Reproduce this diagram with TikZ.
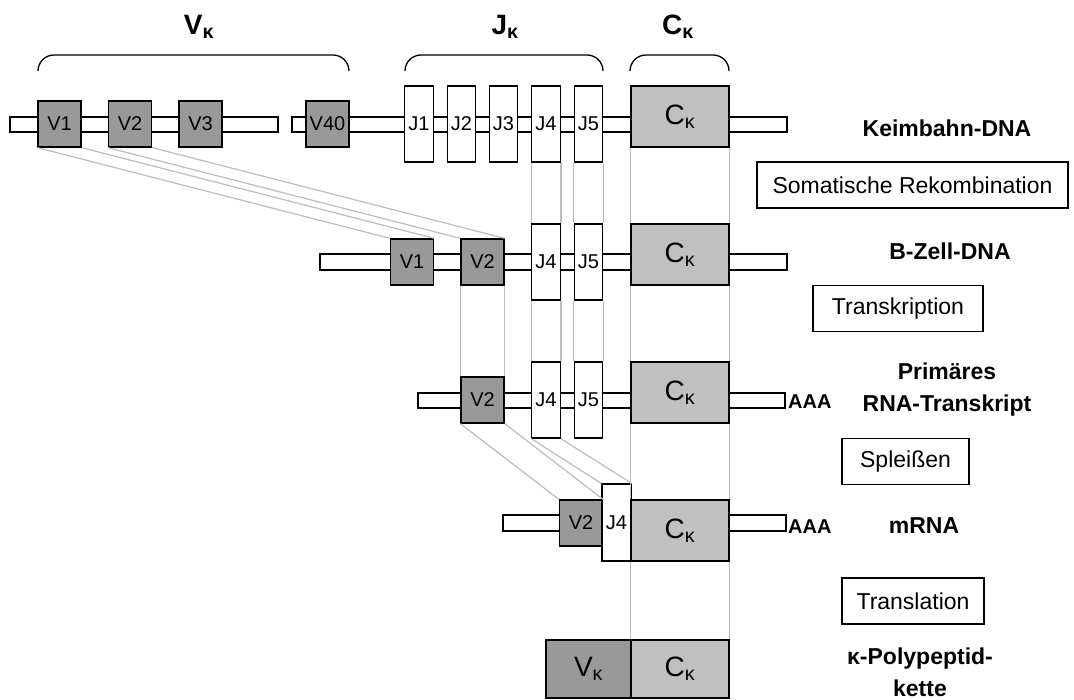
\documentclass[tikz,border=0pt]{standalone}
\usepackage{fontspec}
\setmainfont{Liberation Sans}
\usetikzlibrary{positioning}
\definecolor{VGray}{RGB}{153,153,153}
\definecolor{CGray}{RGB}{192,192,192}
\definecolor{GuideGray}{RGB}{188,188,188}
\newcommand{\ksub}{\textsubscript{κ}}
\tikzset{
  seg/.style={draw=black,line width=1.3pt,inner sep=0pt,font=\fontsize{20}{24}\selectfont},
  vseg/.style={seg,fill=VGray,minimum width=43pt,minimum height=46pt},
  jseg/.style={seg,fill=white,minimum width=28.5pt,minimum height=76pt},
  cseg/.style={seg,fill=CGray,minimum width=98pt,minimum height=61pt,font=\fontsize{28}{32}\selectfont},
  strand/.style={draw=black,fill=white,line width=1.3pt},
  guide/.style={draw=GuideGray,line width=1.2pt},
  bracket/.style={draw=black,line width=1.3pt,rounded corners=16pt},
  head/.style={font=\bfseries\fontsize{28}{32}\selectfont,anchor=base},
  rowname/.style={font=\bfseries\fontsize{23}{32}\selectfont,align=center},
  procbox/.style={draw=black,line width=1.3pt,font=\fontsize{23}{27}\selectfont,inner sep=0pt,minimum height=46pt},
  tail/.style={font=\bfseries\fontsize{20}{24}\selectfont,anchor=base west,inner sep=0pt},
}

\begin{document}
\begin{tikzpicture}[x=1pt,y=-1pt]
\path[use as bounding box,fill=white] (0,0) rectangle (1074,700);

% headers and brackets
\node[head] (hv) at (199,35) {V\ksub};
\node[head] (hj) at (505,35) {J\ksub};
\node[head] (hc) at (678,35) {C\ksub};
\draw[bracket] (38,71) -- (38,55) -- (349,55) -- (349,71);
\draw[bracket] (405,71) -- (405,55) -- (603,55) -- (603,71);
\draw[bracket] (630,71) -- (630,55) -- (729,55) -- (729,71);

% Keimbahn-DNA
\draw[strand] (10,117) rectangle (278,132);
\draw[strand] (292,117) rectangle (787,132);
\node[vseg] (va1) at (59.5,124) {V1};
\node[vseg] (va2) at (130,124) {V2};
\node[vseg] (va3) at (200.5,124) {V3};
\node[vseg] (va40) at (327.5,124) {V40};
\node[jseg] (ja1) at (419,124) {J1};
\node[jseg] (ja2) at (461.5,124) {J2};
\node[jseg] (ja3) at (503.5,124) {J3};
\node[jseg] (ja4) at (546,124) {J4};
\node[jseg] (ja5) at (588.5,124) {J5};
\node[cseg] (ca) at (680,116.5) {C\ksub};

% B-Zell-DNA
\draw[strand] (320,254) rectangle (787,270);
\node[vseg] (vb1) at (412,262) {V1};
\node[vseg] (vb2) at (482.5,262) {V2};
\node[jseg] (jb4) at (546,262) {J4};
\node[jseg] (jb5) at (588.5,262) {J5};
\node[cseg] (cb) at (680,254.5) {C\ksub};

% primary transcript
\draw[strand] (418,393) rectangle (785,408);
\node[vseg] (vc2) at (482.5,400) {V2};
\node[jseg] (jc4) at (546,400) {J4};
\node[jseg] (jc5) at (588.5,400) {J5};
\node[cseg] (cc) at (680,392.5) {C\ksub};
\node[tail] (aaac) at (788,409) {AAA};

% mRNA
\draw[strand] (503,515) rectangle (786,531);
\node[vseg] (vd2) at (581,523) {V2};
\node[jseg,minimum width=29pt,minimum height=77pt] (jd4) at (616.5,522.5) {J4};
\node[cseg] (cd) at (680,530.5) {C\ksub};
\node[tail] (aaad) at (788,533) {AAA};

% polypeptide
\node[seg,fill=VGray,minimum width=85pt,minimum height=58pt,font=\fontsize{28}{32}\selectfont] (ve) at (588.5,669) {V\ksub};
\node[cseg,minimum height=58pt] (ce) at (680,669) {C\ksub};

% guide lines
\draw[guide] (va1.south west) -- (vb1.north west);
\draw[guide] (va1.south east) -- (vb1.north east);
\draw[guide] (va2.south west) -- (vb2.north west);
\draw[guide] (va2.south east) -- (vb2.north east);
\draw[guide] (ja4.south west) -- (jb4.north west);
\draw[guide] (ja4.south east) -- (jb4.north east);
\draw[guide] (ja5.south west) -- (jb5.north west);
\draw[guide] (ja5.south east) -- (jb5.north east);
\draw[guide] (ca.south west) -- (cb.north west);
\draw[guide] (ca.south east) -- (cb.north east);

\draw[guide] (vb2.south west) -- (vc2.north west);
\draw[guide] (vb2.south east) -- (vc2.north east);
\draw[guide] (jb4.south west) -- (jc4.north west);
\draw[guide] (jb4.south east) -- (jc4.north east);
\draw[guide] (jb5.south west) -- (jc5.north west);
\draw[guide] (jb5.south east) -- (jc5.north east);
\draw[guide] (cb.south west) -- (cc.north west);
\draw[guide] (cb.south east) -- (cc.north east);

\draw[guide] (vc2.south west) -- (vd2.north west);
\draw[guide] (vc2.south east) -- (vd2.north east);
\draw[guide] (jc4.south west) -- (jd4.north west);
\draw[guide] (jc4.south east) -- (jd4.north east);
\draw[guide] (cc.south west) -- (cd.north west);
\draw[guide] (cc.south east) -- (cd.north east);

\draw[guide] (cd.south west) -- (ce.north west);
\draw[guide] (cd.south east) -- (ce.north east);

% labels and steps
\node[rowname,anchor=base] (keim) at (947,137) {Keimbahn-DNA};
\node[procbox,minimum width=311pt] (rekomb) at (912.5,185) {Somatische Rekombination};
\node[rowname,anchor=base] (bzell) at (950,260) {B-Zell-DNA};
\node[procbox,minimum width=170pt] (transk) at (898,308.5) {Transkription};
\node[rowname] (prim) at (947,390) {Primäres\\RNA-Transkript};
\node[procbox,minimum width=127pt] (spleiss) at (905.5,461.5) {Spleißen};
\node[rowname,anchor=base] (mrna) at (924,533) {mRNA};
\node[procbox,minimum width=142pt] (transl) at (913,601) {Translation};
\node[rowname] (poly) at (920,672) {κ-Polypeptid-\\kette};
\end{tikzpicture}
\end{document}
